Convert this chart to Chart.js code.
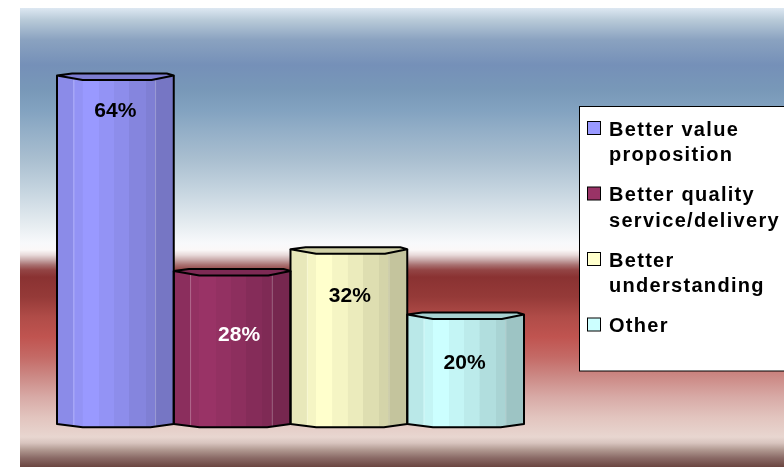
<!DOCTYPE html>
<html><head><meta charset="utf-8">
<script src="https://cdn.jsdelivr.net/npm/chart.js@4"></script>
<style>html,body{margin:0;background:#fff}canvas{display:block}</style>
</head><body>
<canvas id="c" width="784" height="467"></canvas>
<script>
const categories = [''];
const seriesNames = ['Better value proposition', 'Better quality service/delivery', 'Better understanding', 'Other'];
const seriesValues = [64, 28, 32, 20];
const seriesColors = ['#9999ff', '#993366', '#ffffcc', '#ccffff'];
const valueLabels = ['64%', '28%', '32%', '20%'];
const labelColors = ['#000', '#fff', '#000', '#000'];

// layout / style only
const LABEL_DY = [35, 63, 46, 48], LABEL_DX = [0, 7, 1, -1];
const BANDS = [0, 0.14, 0.22, 0.36, 0.49, 0.62, 0.76, 0.84, 1];
const SHADE = [0.91, 0.96, 1.0, 0.96, 0.92, 0.87, 0.83, 0.77];
const BG = [[8,'#dde8f2'],[20,'#b8cad8'],[40,'#8aa2c0'],[65,'#7590b8'],[90,'#7898b8'],[110,'#82a2c0'],
  [133,'#95b0c8'],[160,'#aabfd0'],[187,'#c2d2de'],[207,'#d5e0e8'],[227,'#e8eef2'],[243,'#f8f9fb'],
  [250,'#fbf8f8'],[255,'#e8dada'],[260,'#c8a8a8'],[265,'#a87070'],[270,'#934545'],[277,'#8a3232'],
  [297,'#953a38'],[317,'#b04c48'],[337,'#c05450'],[357,'#c46a66'],[377,'#cc8a86'],[397,'#d8aaa6'],
  [417,'#e2c4be'],[437,'#e8d6d0'],[443,'#d8c4be'],[450,'#b09890'],[458,'#8a6a66'],[467,'#6b4540']];
const FONT = '"Liberation Sans", Arial, sans-serif';

const shade = (hex, f) => {
  const n = parseInt(hex.slice(1), 16);
  const r = Math.round(((n >> 16) & 255) * f), g = Math.round(((n >> 8) & 255) * f), b = Math.round((n & 255) * f);
  return `rgb(${r},${g},${b})`;
};

function barGrad(ctx, x0, w, col) {
  const g = ctx.createLinearGradient(x0, 0, x0 + w, 0);
  for (let i = 0; i < SHADE.length; i++) {
    const c = shade(col, SHADE[i]);
    g.addColorStop(BANDS[i], c);
    g.addColorStop(Math.max(BANDS[i], BANDS[i + 1] - 0.002), c);
  }
  return g;
}

const background = {
  id: 'background',
  beforeDraw(chart) {
    const ctx = chart.ctx;
    ctx.save();
    ctx.fillStyle = '#fff';
    ctx.fillRect(0, 0, chart.width, chart.height);
    const top = BG[0][0], bot = BG[BG.length - 1][0];
    const g = ctx.createLinearGradient(0, top, 0, bot);
    BG.forEach(([y, c]) => g.addColorStop((y - top) / (bot - top), c));
    ctx.fillStyle = g;
    ctx.fillRect(20, top, chart.width - 20, bot - top);
    ctx.restore();
  }
};

const cylinders = {
  id: 'cylinders',
  beforeDatasetsDraw(chart) {
    chart.data.datasets.forEach((ds, i) => {
      chart.getDatasetMeta(i).data.forEach(el => {
        el.options.backgroundColor = barGrad(chart.ctx, el.x - el.width / 2, el.width, seriesColors[i]);
      });
    });
  },
  afterDatasetsDraw(chart) {
    const ctx = chart.ctx;
    ctx.save();
    chart.data.datasets.forEach((ds, i) => {
      chart.getDatasetMeta(i).data.forEach(el => {
        const w = el.width, x0 = el.x - w / 2, x1 = el.x + w / 2, y = el.y, b = el.base;
        // bottom rim
        ctx.beginPath();
        ctx.moveTo(x0, b); ctx.lineTo(x0 + 0.22 * w, b + 3.3); ctx.lineTo(x1 - 0.2 * w, b + 3.3); ctx.lineTo(x1, b);
        ctx.closePath();
        ctx.fillStyle = barGrad(ctx, x0, w, seriesColors[i]); ctx.fill();
        // highlight lines
        ctx.strokeStyle = 'rgba(255,255,255,0.28)'; ctx.lineWidth = 1;
        [0.14, 0.84].forEach(f => {
          ctx.beginPath(); ctx.moveTo(x0 + f * w + 0.5, y + 3); ctx.lineTo(x0 + f * w + 0.5, b + 3); ctx.stroke();
        });
        // outline
        ctx.strokeStyle = '#000'; ctx.lineWidth = 2; ctx.lineJoin = 'round';
        ctx.beginPath();
        ctx.moveTo(x0, y - 1); ctx.lineTo(x0, b); ctx.lineTo(x0 + 0.22 * w, b + 3.3);
        ctx.lineTo(x1 - 0.2 * w, b + 3.3); ctx.lineTo(x1, b); ctx.lineTo(x1, y - 1);
        ctx.stroke();
        // top face
        ctx.beginPath();
        ctx.moveTo(x0, y - 1); ctx.lineTo(x0 + 0.13 * w, y - 3); ctx.lineTo(x1 - 0.06 * w, y - 3);
        ctx.lineTo(x1, y - 1); ctx.lineTo(x1 - 0.19 * w, y + 3.5); ctx.lineTo(x0 + 0.22 * w, y + 3.5);
        ctx.closePath();
        ctx.fillStyle = shade(seriesColors[i], 0.82); ctx.fill(); ctx.stroke();
        // value label
        ctx.fillStyle = labelColors[i];
        ctx.font = 'bold 21px ' + FONT;
        ctx.textAlign = 'center'; ctx.textBaseline = 'middle';
        ctx.fillText(valueLabels[i], el.x + LABEL_DX[i], y + LABEL_DY[i]);
      });
    });
    ctx.restore();
  }
};

const legendBox = {
  id: 'legendBox',
  afterDraw(chart) {
    const ctx = chart.ctx;
    ctx.save();
    ctx.fillStyle = '#fff'; ctx.strokeStyle = '#000'; ctx.lineWidth = 1;
    ctx.fillRect(579.5, 106.5, 230, 264.5); ctx.strokeRect(579.5, 106.5, 230, 264.5);
    ctx.font = 'bold 20px ' + FONT;
    ctx.letterSpacing = '1.3px';
    ctx.textAlign = 'left'; ctx.textBaseline = 'alphabetic';
    let base = 135.5;
    chart.data.datasets.forEach((ds, i) => {
      // wrap the series name like the original legend
      const lines = [];
      ds.label.split(' ').forEach(word => {
        const last = lines[lines.length - 1];
        if (last && ctx.measureText(last + ' ' + word).width < 178) lines[lines.length - 1] = last + ' ' + word;
        else lines.push(word);
      });
      ctx.fillStyle = seriesColors[i];
      ctx.fillRect(587.5, base - 14, 13, 13);
      ctx.strokeRect(587.5, base - 14, 13, 13);
      ctx.fillStyle = '#000';
      lines.forEach((l, k) => ctx.fillText(l, 609, base + k * 25.5));
      base += (lines.length - 1) * 25.5 + 40;
    });
    ctx.restore();
  }
};

new Chart(document.getElementById('c'), {
  type: 'bar',
  data: {
    labels: categories,
    datasets: seriesNames.map((name, i) => ({
      label: name,
      data: [seriesValues[i]],
      backgroundColor: seriesColors[i],
      borderWidth: 0,
      categoryPercentage: 1,
      barPercentage: 1,
    })),
  },
  options: {
    responsive: false,
    animation: false,
    devicePixelRatio: 1,
    layout: { padding: { left: 57, right: 260, top: 44, bottom: 43 } },
    scales: {
      x: { display: false },
      y: { display: false, min: 0, max: 70 },
    },
    plugins: { legend: { display: false }, tooltip: { enabled: false } },
  },
  plugins: [background, cylinders, legendBox],
});
</script>
</body></html>
